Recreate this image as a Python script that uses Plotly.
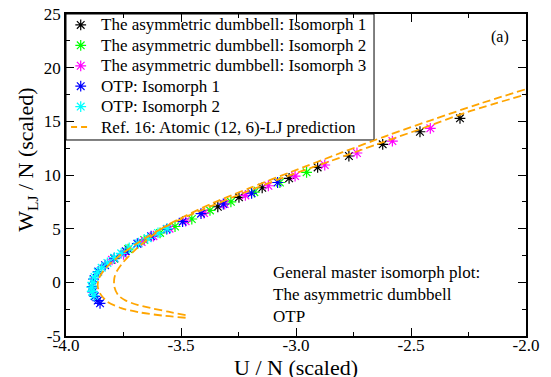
import plotly.graph_objects as go

# ---- Simulation data: energy U/N vs virial W_LJ/N (both scaled) ----
dumbbell_iso1_u = [-3.34, -3.248, -3.147, -3.03, -2.906, -2.77, -2.623, -2.461, -2.287]
dumbbell_iso1_w = [7.04, 7.92, 8.81, 9.69, 10.71, 11.77, 12.86, 14.03, 15.28]

dumbbell_iso2_u = [-3.79, -3.73, -3.66, -3.591, -3.526, -3.453, -3.374, -3.283, -3.181, -3.07, -2.954]
dumbbell_iso2_w = [2.2, 3.1, 3.95, 4.6, 5.2, 5.9, 6.7, 7.5, 8.4, 9.3, 10.25]

dumbbell_iso3_u = [-3.80, -3.75, -3.671, -3.62, -3.55, -3.48, -3.40, -3.31, -3.22, -3.12,
                   -3.004, -2.875, -2.735, -2.581, -2.416]
dumbbell_iso3_w = [2.1, 2.6, 3.75, 4.3, 5.0, 5.7, 6.45, 7.3, 8.1, 9.0,
                   9.9, 10.93, 12.05, 13.16, 14.35]

otp_iso1_u = [-3.852, -3.862, -3.875, -3.884, -3.886, -3.88, -3.86, -3.83, -3.79, -3.74,
              -3.69, -3.63, -3.562, -3.493, -3.413, -3.316, -3.193, -3.08]
otp_iso1_w = [-1.96, -1.7, -1.3, -0.9, -0.4, 0.3, 1.0, 1.6, 2.25, 2.9,
              3.6, 4.3, 4.95, 5.65, 6.4, 7.3, 8.3, 9.3]

otp_iso2_u = [-3.878, -3.886, -3.888, -3.884, -3.876, -3.862, -3.845, -3.82, -3.79, -3.76,
              -3.725, -3.685, -3.645, -3.60, -3.56]
otp_iso2_w = [-1.25, -0.85, -0.45, 0.0, 0.5, 0.95, 1.35, 1.8, 2.3, 2.7,
              3.2, 3.65, 4.1, 4.6, 5.0]

# ---- Atomic (12,6)-LJ isomorph predictions (two branches) ----
lj_a_u = [-3.48, -3.58, -3.68, -3.76, -3.82, -3.85, -3.862, -3.858, -3.84, -3.81, -3.76,
          -3.70, -3.61, -3.50, -3.38, -3.22, -3.05, -2.85, -2.65, -2.45, -2.25, -2.00]
lj_a_w = [-3.30, -3.10, -2.80, -2.40, -1.80, -1.10, -0.40, 0.30, 1.00, 1.70, 2.60,
          3.50, 4.70, 5.90, 7.00, 8.40, 9.80, 11.30, 12.85, 14.35, 15.90, 17.50]

lj_b_u = [-3.48, -3.555, -3.62, -3.686, -3.74, -3.773, -3.79, -3.79, -3.78, -3.75, -3.70,
          -3.64, -3.57, -3.48, -3.36, -3.20, -3.02, -2.80, -2.60, -2.40, -2.20, -2.00]
lj_b_w = [-3.05, -2.74, -2.45, -2.12, -1.70, -1.20, -0.40, 0.37, 1.00, 1.90, 3.00,
          4.10, 5.20, 6.20, 7.40, 8.80, 10.30, 12.10, 13.70, 15.20, 16.65, 18.00]

# ---- Axis ticks ----
x_ticks = [-4.0, -3.5, -3.0, -2.5, -2.0]
x_tick_text = ["-4.0", "-3.5", "-3.0", "-2.5", "-2.0"]
y_ticks = [-5, 0, 5, 10, 15, 20, 25]
y_tick_text = ["-5", "0", "5", "10", "15", "20", "25"]

FONT = "Liberation Serif, Times New Roman, serif"
ORANGE = "#ffa500"
LJ_LABEL = "Ref. 16: Atomic (12, 6)-LJ prediction"

series = [
    ("The asymmetric dumbbell: Isomorph 1", dumbbell_iso1_u, dumbbell_iso1_w, "#000000"),
    ("The asymmetric dumbbell: Isomorph 2", dumbbell_iso2_u, dumbbell_iso2_w, "#00ff00"),
    ("The asymmetric dumbbell: Isomorph 3", dumbbell_iso3_u, dumbbell_iso3_w, "#ff00ff"),
    ("OTP: Isomorph 1", otp_iso1_u, otp_iso1_w, "#0000ff"),
    ("OTP: Isomorph 2", otp_iso2_u, otp_iso2_w, "#00ffff"),
]

fig = go.Figure()


def star(col):
    return dict(symbol="asterisk", size=9, color=col, line=dict(color=col, width=1.2))


for name, u, w, col in series:
    fig.add_trace(go.Scatter(x=u, y=w, mode="markers", name=name, marker=star(col),
                             showlegend=False))

dash_style = dict(color=ORANGE, width=1.8, dash="8px,4px", shape="spline", smoothing=0.8)
fig.add_trace(go.Scatter(x=lj_a_u, y=lj_a_w, mode="lines", name=LJ_LABEL,
                         line=dash_style, showlegend=False))
fig.add_trace(go.Scatter(x=lj_b_u, y=lj_b_w, mode="lines", name=LJ_LABEL,
                         line=dash_style, showlegend=False))

# ---- Compact key box in the upper-left corner (paper coordinates) ----
KEY_TOP = 0.966        # centre of first row
KEY_STEP = 0.0634      # row pitch
KEY_SYM_X = 0.032
KEY_TXT_X = 0.0717
key_rows = [(name, col) for name, _, _, col in series]
row_y = [KEY_TOP - i * KEY_STEP for i in range(len(key_rows) + 1)]

fig.add_shape(type="rect", xref="paper", yref="paper", x0=0, x1=0.6696, y0=0.6087, y1=1.0,
              line=dict(color="black", width=1), fillcolor="white", layer="below")
for i, (name, col) in enumerate(key_rows):
    fig.add_trace(go.Scatter(x=[KEY_SYM_X], y=[row_y[i]], xaxis="x2", yaxis="y2",
                             mode="markers", marker=star(col), showlegend=False,
                             hoverinfo="skip"))
    fig.add_annotation(x=KEY_TXT_X, y=row_y[i], xref="paper", yref="paper",
                       xanchor="left", yanchor="middle", text=name, showarrow=False,
                       font=dict(family=FONT, size=17, color="black"))
fig.add_shape(type="line", xref="paper", yref="paper", x0=0.011, x1=0.05,
              y0=row_y[-1], y1=row_y[-1], line=dict(color=ORANGE, width=1.8, dash="6px,4px"))
fig.add_annotation(x=KEY_TXT_X, y=row_y[-1], xref="paper", yref="paper",
                   xanchor="left", yanchor="middle", text=LJ_LABEL, showarrow=False,
                   font=dict(family=FONT, size=17, color="black"))

axis_common = dict(
    showline=True, linecolor="black", linewidth=1.5, mirror="ticks",
    ticks="inside", ticklen=8, tickwidth=1, tickcolor="black",
    showgrid=False, zeroline=False, automargin=False,
    tickfont=dict(family=FONT, size=17, color="black"),
)

xaxis = dict(
    range=[-4.0, -2.0], tickmode="array", tickvals=x_ticks, ticktext=x_tick_text,
    minor=dict(ticks="inside", ticklen=4, dtick=0.25, tick0=-4.0, tickcolor="black"),
    ticklabelstandoff=-7,
    **axis_common,
)
yaxis = dict(
    range=[-5, 25], tickmode="array", tickvals=y_ticks, ticktext=y_tick_text,
    minor=dict(ticks="inside", ticklen=4, dtick=2.5, tick0=-5, tickcolor="black"),
    **axis_common,
)

# Axis titles
fig.add_annotation(x=0.5, y=-0.097, xref="paper", yref="paper", xanchor="center", yanchor="middle",
                   text="U / N (scaled)", showarrow=False,
                   font=dict(family=FONT, size=22, color="black"))
fig.add_annotation(x=-0.085, y=0.547, xref="paper", yref="paper", xanchor="center", yanchor="middle",
                   text="W<sub>LJ</sub> / N (scaled)", textangle=-90, showarrow=False,
                   font=dict(family=FONT, size=22, color="black"))

fig.add_annotation(x=0.967, y=0.929, xref="paper", yref="paper", xanchor="right", yanchor="middle",
                   text="(a)", showarrow=False, font=dict(family=FONT, size=16, color="black"))
fig.add_annotation(x=0.446, y=0.025, xref="paper", yref="paper", xanchor="left", yanchor="bottom",
                   align="left", showarrow=False,
                   text="General master isomorph plot:<br>The asymmetric dumbbell<br>OTP",
                   font=dict(family=FONT, size=17, color="black"))

fig.update_layout(
    width=551, height=377,
    margin=dict(l=66, r=25, t=14, b=41),
    plot_bgcolor="white", paper_bgcolor="white",
    font=dict(family=FONT, color="black"),
    xaxis=xaxis, yaxis=yaxis,
    xaxis2=dict(overlaying="x", range=[0, 1], visible=False),
    yaxis2=dict(overlaying="y", range=[0, 1], visible=False),
    showlegend=False,
)

fig.write_html("out.html")
